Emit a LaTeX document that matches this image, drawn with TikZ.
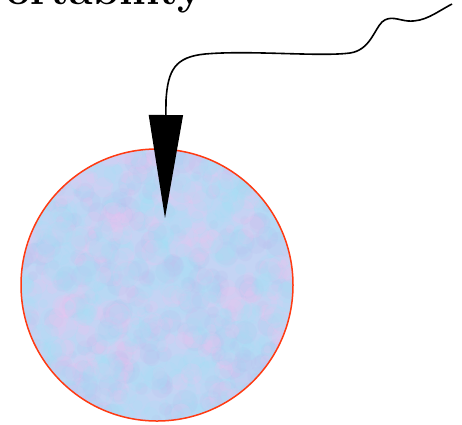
\documentclass[tikz,border=0pt]{standalone}
\usepackage{xcolor}
\usepackage{tikz}
\usetikzlibrary{arrows.meta,backgrounds}
\definecolor{rimred}{HTML}{FF3A12}
\definecolor{padblue}{HTML}{C4D4F4}
\definecolor{padcyan}{HTML}{A4E0F6}
\definecolor{padpink}{HTML}{EEC4F0}
\definecolor{padlilac}{HTML}{B8BEEE}

\begin{document}
\begin{tikzpicture}[x=1pt,y=-1pt,
  disk/.style={circle,draw=rimred,line width=1.5pt,minimum size=272pt,inner sep=0pt},
  title/.style={font=\fontsize{43}{50}\selectfont\bfseries,inner sep=0pt,anchor=base east},
  blob/.style={opacity=0.2},
  >={Triangle[length=103pt,width=34pt]}]
  \useasboundingbox (0,0) rectangle (462,424);
  \node[title] (head) at (203,4.5) {Portability};
  \node[disk] (pad) at (157,285) {};
  \coordinate (start) at (452,4);
  \coordinate (tip) at (165,218);
  % cloudy fill of the disk
  \begin{scope}[on background layer]
    \fill[padblue] (pad.center) circle (136pt);
    \clip (pad.center) circle (136pt);
    \pgfmathsetseed{7}
    \foreach \c in {padcyan,padlilac,padpink,padcyan}
      \foreach \i in {1,...,260}
        \fill[\c,blob] ({157+136*rand},{285+136*rand}) circle ({4pt+9pt*rnd});
  \end{scope}
  \draw[->,line width=1.6pt] (start)
    .. controls (435,13) and (425,22) .. (408,21)
    .. controls (398,20) and (390,15) .. (382,22)
    .. controls (374,30) and (370,50) .. (350,53)
    .. controls (320,57) and (250,50) .. (205,54)
    .. controls (175,57) and (168,70) .. (166,100)
    -- (tip);
\end{tikzpicture}
\end{document}
